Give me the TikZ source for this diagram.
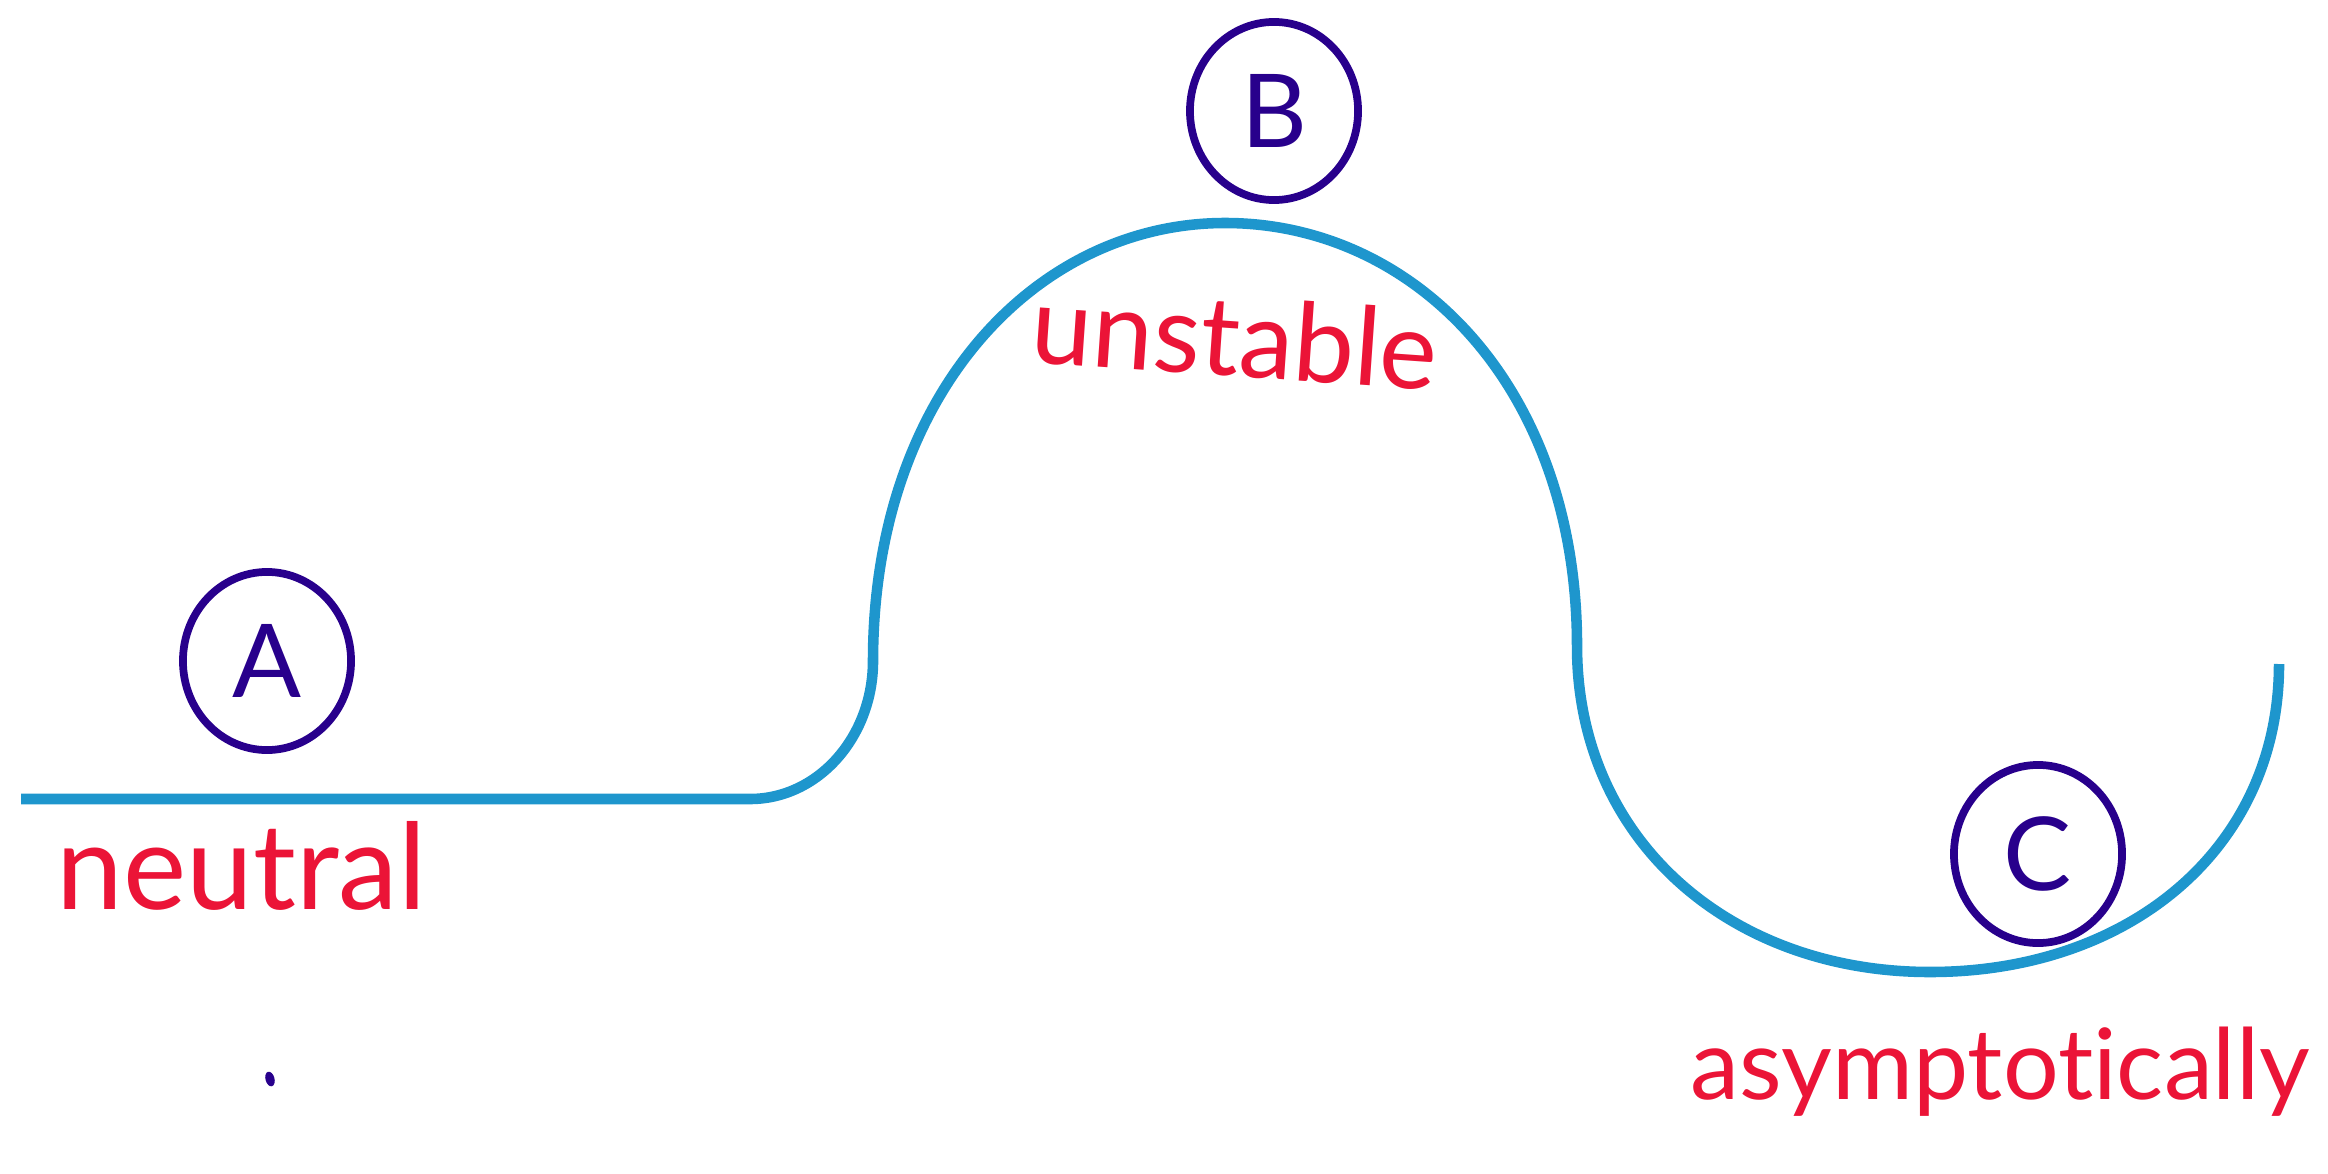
\documentclass[tikz,border=0pt]{standalone}
\usepackage{fontspec}
\setmainfont{Lato}[Ligatures=NoCommon]
\usepackage{xcolor}
\usepackage{tikz}
\usetikzlibrary{shapes.geometric}

\definecolor{trackblue}{RGB}{30,150,205}
\definecolor{inkpurple}{RGB}{40,0,140}
\definecolor{inkred}{RGB}{235,20,55}

\begin{document}
\begin{tikzpicture}[x=0.01cm, y=-0.01cm,
  track/.style={line width=3pt, draw=trackblue},
  ball/.style={ellipse, draw=inkpurple, line width=2.2pt, text=inkpurple,
    minimum width=1.68cm, minimum height=1.78cm, inner sep=0pt,
    font=\fontsize{29}{29}\selectfont},
  state/.style={text=inkred, inner sep=0pt, anchor=base west}]
\useasboundingbox (0,0) rectangle (2328,1173);

% Draw the track: flat, hill, valley
\draw[track] (21,799) -- (750,799)
  .. controls (818,799) and (873,737) .. (873,661)
  .. controls (873,395) and (1035,223) .. (1225,223)
  .. controls (1415,223) and (1577,387) .. (1577,646)
  .. controls (1577,840) and (1730,972) .. (1930,972)
  .. controls (2130,972) and (2279,848) .. (2279,664);

% Balls
\node[ball] (A) at (267,661) {A};
\node[ball] (B) at (1274,111) {B};
\node[ball] (C) at (2038,854) {C};

% Kinds of equilibrium
\node[state, font=\fontsize{34}{34}\selectfont] (neutral) at (56,909) {neutral};
\node[state, font=\fontsize{31}{31}\selectfont, rotate=-4] (unstable) at (1029,362) {unstable};
\node[state, font=\fontsize{28}{28}\selectfont] (asym) at (1690,1099) {asymptotically};

\node[ellipse, fill=inkpurple, inner sep=0pt, minimum width=0.09cm,
  minimum height=0.15cm, rotate=15] (dot) at (270,1079) {};
\end{tikzpicture}
\end{document}
